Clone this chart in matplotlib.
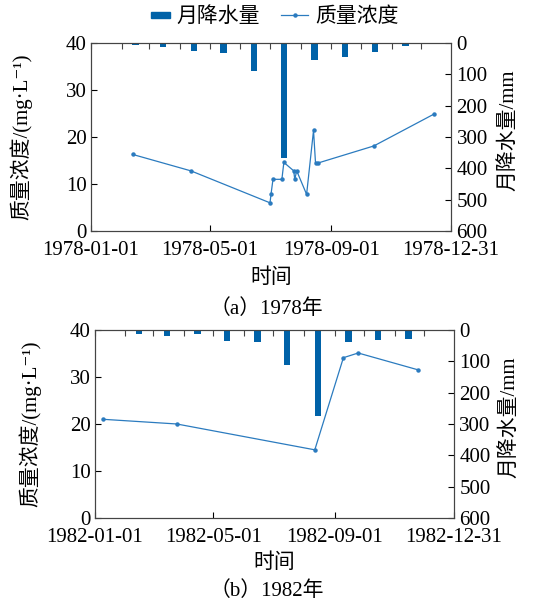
import numpy as np
import pandas as pd
import matplotlib
matplotlib.use('Agg')
import matplotlib.pyplot as plt
import matplotlib.dates as mdates
from matplotlib.lines import Line2D
from matplotlib.patches import Rectangle, Patch
from matplotlib.legend_handler import HandlerPatch

plt.rcParams['font.family'] = ['Liberation Serif', 'Noto Sans CJK SC', 'DejaVu Sans']
plt.rcParams['axes.unicode_minus'] = False

# ---- data ----
months = list(range(1, 13))

conc_dates_78 = ['1978-02-12', '1978-04-12', '1978-07-01', '1978-07-02', '1978-07-04',
                 '1978-07-13', '1978-07-15', '1978-07-25', '1978-07-26', '1978-07-28',
                 '1978-08-07', '1978-08-14', '1978-08-16', '1978-08-19', '1978-10-14',
                 '1978-12-14']
conc_78 = [16.3, 12.8, 6.0, 7.8, 11.0, 11.0, 14.6, 12.8, 11.0, 12.8, 7.8, 21.4, 14.5,
           14.5, 18.1, 24.9]
rain_78 = [0, 7, 13, 24, 32, 90, 367, 55, 45, 28, 11, 2]

conc_dates_82 = ['1982-01-09', '1982-03-25', '1982-08-12', '1982-09-10', '1982-09-25',
                 '1982-11-25']
conc_82 = [21.0, 20.0, 14.5, 34.1, 35.1, 31.5]
rain_82 = [2, 13, 18, 13, 36, 38, 113, 276, 38, 31, 29, 1]

bar_color = '#0062a8'
line_color = '#2b7bbf'
fs = 15


def panel(ax, year, dates, conc, rain, lab_x, rlab_x, xlab_y):
    ax2 = ax.twinx()
    mid = pd.to_datetime(['%d-%02d-15' % (year, m) for m in months])
    ax2.bar(mid, rain, width=6.5, color=bar_color, zorder=2)
    ax2.set_ylim(600, 0)
    ax2.set_yticks(np.arange(0, 601, 100))
    ax2.tick_params(axis='y', direction='in', labelsize=fs, length=4, pad=4)
    ax2.set_ylabel('月降水量/mm', fontsize=fs, rotation=90)
    ax2.yaxis.set_label_coords(rlab_x, 0.537)

    ax.set_zorder(ax2.get_zorder() + 1)
    ax.patch.set_visible(False)
    ax.plot(pd.to_datetime(dates), conc, color=line_color, lw=0.9, marker='o',
            markersize=2.2)
    ax.set_ylim(0, 40)
    ax.set_yticks([0, 10, 20, 30, 40])
    start = pd.Timestamp('%d-01-01' % year)
    end = pd.Timestamp('%d-12-31' % year)
    ax.set_xlim(start, end)
    ticks = pd.to_datetime(['%d-01-01' % year, '%d-05-01' % year,
                            '%d-09-01' % year, '%d-12-31' % year])
    ax.set_xticks(ticks)
    ax.set_xticklabels([t.strftime('%Y-%m-%d') for t in ticks])
    ax.tick_params(axis='both', direction='in', labelsize=fs, length=4)
    ax.tick_params(axis='x', pad=7)
    ax.tick_params(axis='y', pad=3)
    ax.set_ylabel('质量浓度/(mg·L⁻¹)', fontsize=fs)
    ax.yaxis.set_label_coords(lab_x, 0.5)
    ax.set_xlabel('时间', fontsize=fs)
    ax.xaxis.set_label_coords(0.5, xlab_y)

    # monthly ticks along the top edge
    top = ax.secondary_xaxis('top')
    top.xaxis.set_major_locator(mdates.MonthLocator())
    top.tick_params(direction='in', length=4, labeltop=False, color='#444444')
    top.spines['top'].set_visible(False)

    for a in (ax, ax2):
        for s in a.spines.values():
            s.set_color('#444444')
            s.set_linewidth(0.8)
    return ax2


def bar_handle(legend, orig_handle, xdescent, ydescent, width, height, fontsize):
    return Rectangle((-xdescent + width * 0.3, -ydescent + height / 2 - 2.2),
                     width * 0.7, 4.4)


fig = plt.figure(figsize=(5.33, 6.04), dpi=100)
ax_a = fig.add_axes([0.1708, 0.6175, 0.6753, 0.3113])
ax_b = fig.add_axes([0.178, 0.1424, 0.6735, 0.3113])

panel(ax_a, 1978, conc_dates_78, conc_78, rain_78, -0.162, 1.131, -0.2)
panel(ax_b, 1982, conc_dates_82, conc_82, rain_82, -0.15, 1.128, -0.19)

fig.text(0.5, 1 - 309 / 604, '（a）1978年', ha='center', va='center', fontsize=fs)
fig.text(0.5, 1 - 591 / 604, '（b）1982年', ha='center', va='center', fontsize=fs)

handles = [Patch(color=bar_color),
           Line2D([], [], color=line_color, lw=0.9, marker='o', markersize=2.2)]
fig.legend(handles, ['月降水量', '质量浓度'], loc='center', ncol=2, frameon=False,
           bbox_to_anchor=(0.508, 1 - 17 / 604), fontsize=fs, handlelength=1.3,
           columnspacing=1.0, handletextpad=0.35,
           handler_map={Patch: HandlerPatch(patch_func=bar_handle)})

fig.savefig('out.png', dpi=100)
